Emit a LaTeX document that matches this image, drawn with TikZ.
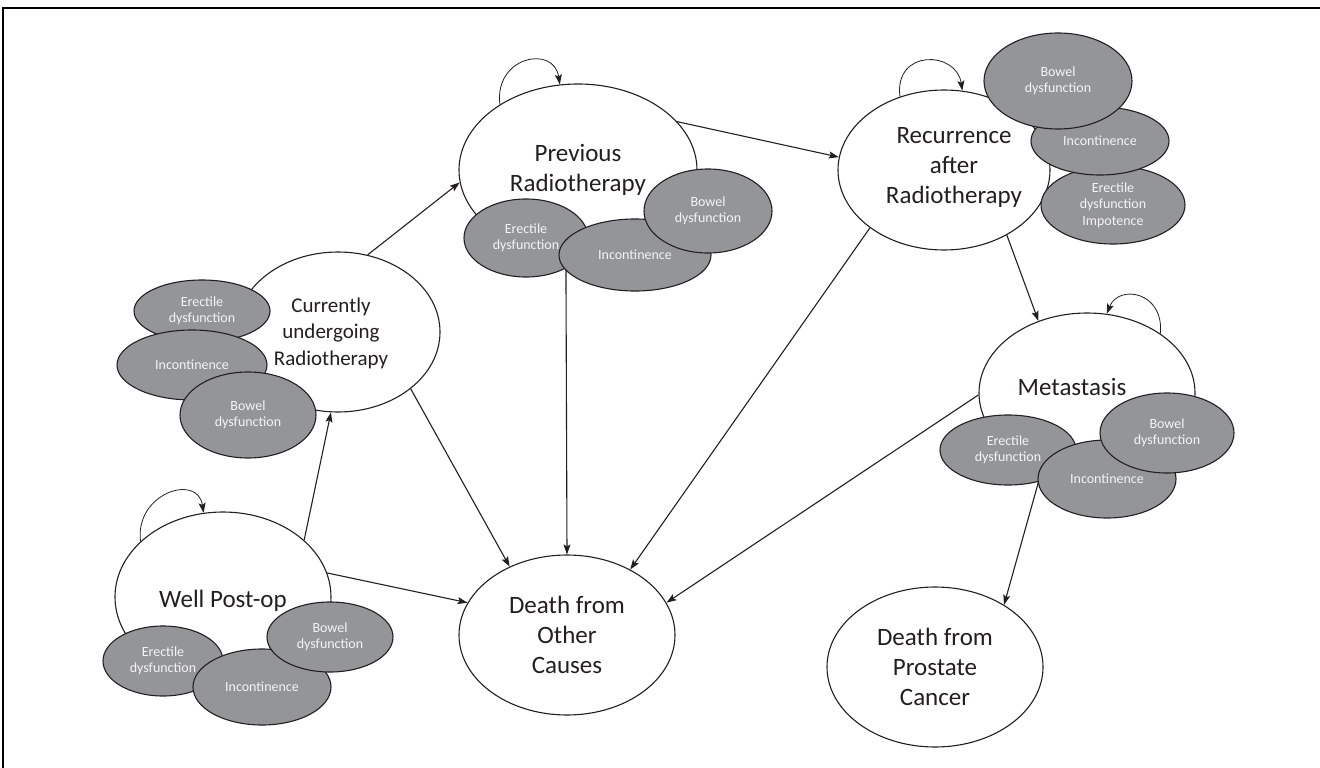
\documentclass[tikz,border=0pt]{standalone}
\usepackage{fontspec}
\setmainfont{Carlito}
\usetikzlibrary{shapes.geometric,arrows.meta}
\definecolor{sidegray}{HTML}{939598}
\definecolor{inkdark}{HTML}{231F20}
\definecolor{sidetext}{HTML}{F4F4F4}
\tikzset{
  statebox/.style={ellipse, draw=inkdark, fill=white, line width=1.1pt, inner sep=0pt,
    font=\fontsize{25}{30}\selectfont, align=center, text=inkdark},
  statelabel/.style={font=\fontsize{25}{30}\selectfont, align=center, text=inkdark, inner sep=0pt},
  smalllabel/.style={font=\fontsize{21}{26.5}\selectfont, align=center, text=inkdark, inner sep=0pt},
  sidebox/.style={ellipse, draw=inkdark, fill=sidegray, line width=1.1pt, inner sep=0pt,
    font=\fontsize{14}{16.5}\selectfont, align=center, text=sidetext},
  conn/.style={draw=inkdark, line width=1.1pt, -{Stealth[length=10pt,width=7pt,inset=2pt]}},
  selfloop/.style={draw=inkdark, line width=0.8pt, -{Stealth[length=10pt,width=7pt,inset=2pt]}},
  sz/.style 2 args={minimum width=#1pt, minimum height=#2pt}
}
\begin{document}
\begin{tikzpicture}[x=1pt,y=-1pt]
\useasboundingbox (0,0) rectangle (1320,768);
% frame
\draw[line width=2pt, black] (3,768) -- (3,8) -- (1320,8);

% main states
\node[statebox, sz={238}{172}] (prev) at (578,170) {Previous\\Radiotherapy};
\node[statebox, sz={212}{160}] (recur) at (944,170) {};
\node[statelabel] (recurT) at (954,167) {Recurrence\\after\\Radiotherapy};
\node[statebox, sz={204}{160}] (curr) at (338,332) {};
\node[smalllabel] (currT) at (331,333) {Currently\\undergoing\\Radiotherapy};
\node[statebox, sz={216}{160}] (meta) at (1087,393) {};
\node[statelabel] (metaT) at (1072,387) {Metastasis};
\node[statebox, sz={216}{170}] (well) at (223,597) {};
\node[statelabel] (wellT) at (223,601) {Well Post-op};
\node[statebox, sz={216}{160}] (dother) at (567,635) {Death from\\Other\\Causes};
\node[statebox, sz={216}{160}] (dpros) at (935,667) {Death from\\Prostate\\Cancer};

% transitions
\draw[conn] (well.35.5) -- (curr.265.8);
\draw[conn] (well.13.8) -- (dother.162);
\draw[conn] (curr.69.7) -- (prev.186);
\draw[conn] (curr.322) -- (dother.130.6);
\draw[conn] (prev.262.7) -- (dother.90);
\draw[conn] (prev.26.1) -- (recur.173.7);
\draw[conn] (recur.218.9) -- (dother.46.8);
\draw[conn] (recur.314.2) -- (meta.124);
\draw[conn] (meta.181) -- (dother.18.1);
\draw[conn] (meta.239) -- (dpros.42.1);

% self loops
\draw[selfloop] (prev.140) .. controls +(-6,-48) and +(-6,-40) .. (prev.102);
\draw[selfloop] (recur.121) .. controls +(-6,-48) and +(-6,-40) .. (recur.77);
\draw[selfloop] (meta.39.5) .. controls +(4,-42) and +(12,-30) .. (meta.76);
\draw[selfloop] (well.146) .. controls +(-6,-48) and +(-6,-40) .. (well.103);

% side effects: Previous Radiotherapy
\node[sidebox, sz={124}{78}] (prevE) at (526,238) {Erectile\\dysfunction};
\node[sidebox, sz={152}{72}] (prevI) at (635,255) {Incontinence};
\node[sidebox, sz={128}{84}] (prevB) at (708,211) {Bowel\\dysfunction};

% side effects: Recurrence
\node[sidebox, sz={144}{78}] (recurE) at (1113,205) {Erectile\\dysfunction\\Impotence};
\node[sidebox, sz={138}{68}] (recurI) at (1100,141) {Incontinence};
\node[sidebox, sz={148}{96}] (recurB) at (1058,81) {Bowel\\dysfunction};

% side effects: Currently undergoing
\node[sidebox, sz={136}{62}] (currE) at (202,311) {Erectile\\dysfunction};
\node[sidebox, sz={150}{70}] (currI) at (192,365) {Incontinence};
\node[sidebox, sz={136}{86}] (currB) at (248,415) {Bowel\\dysfunction};

% side effects: Metastasis
\node[sidebox, sz={136}{70}] (metaE) at (1008,450) {Erectile\\dysfunction};
\node[sidebox, sz={138}{78}] (metaI) at (1107,479) {Incontinence};
\node[sidebox, sz={134}{80}] (metaB) at (1167,433) {Bowel\\dysfunction};

% side effects: Well Post-op
\node[sidebox, sz={120}{70}] (wellE) at (163,661) {Erectile\\dysfunction};
\node[sidebox, sz={138}{76}] (wellI) at (262,687) {Incontinence};
\node[sidebox, sz={126}{70}] (wellB) at (330,637) {Bowel\\dysfunction};
\end{tikzpicture}
\end{document}
